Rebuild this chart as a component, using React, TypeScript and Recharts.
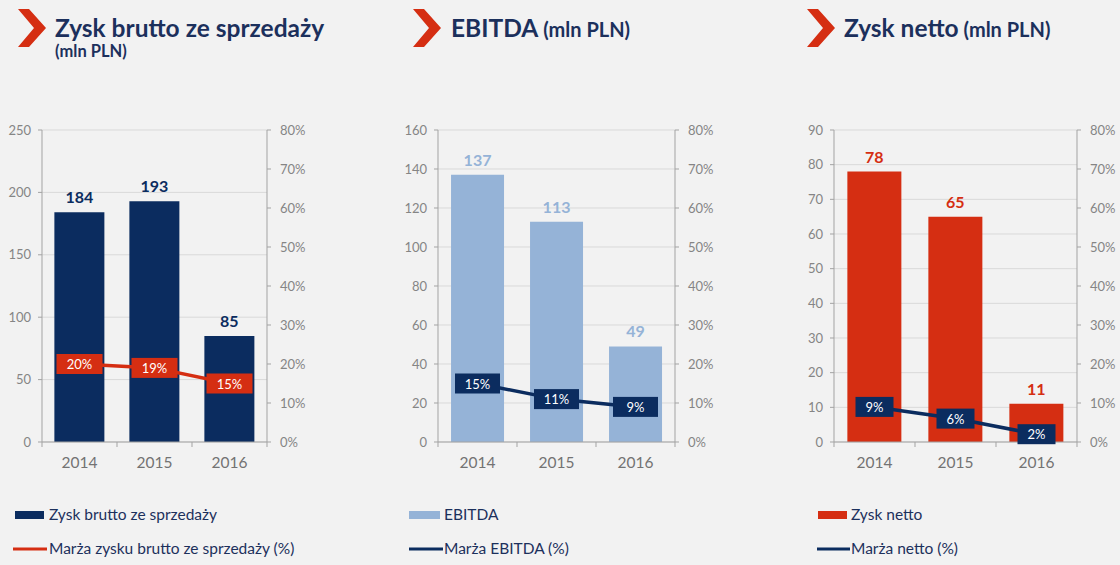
import React from 'react';
import { ComposedChart, Bar, Line, XAxis, YAxis, CartesianGrid, LabelList } from 'recharts';

// ---- data ----
const years = ['2014', '2015', '2016'];

const grossProfit = [184, 193, 85];
const grossMargin = [20, 19, 15];

const ebitda = [137, 113, 49];
const ebitdaMargin = [15, 11, 9];

const netProfit = [78, 65, 11];
const netMargin = [9, 6, 2];

const grossTicks = [0, 50, 100, 150, 200, 250];
const ebitdaTicks = [0, 20, 40, 60, 80, 100, 120, 140, 160];
const netTicks = [0, 10, 20, 30, 40, 50, 60, 70, 80, 90];
const pctTicks = [0, 10, 20, 30, 40, 50, 60, 70, 80];

const panelTitles = ['Zysk brutto ze sprzedaży', 'EBITDA', 'Zysk netto'];
const unitLabel = '(mln PLN)';
const barNames = ['Zysk brutto ze sprzedaży', 'EBITDA', 'Zysk netto'];
const lineNames = ['Marża zysku brutto ze sprzedaży (%)', 'Marża EBITDA (%)', 'Marża netto (%)'];

// ---- style ----
const FONT = 'Lato, "Noto Sans", sans-serif';
const NAVY = '#0b2c5f';
const TEXT_NAVY = '#1c305c';
const RED = '#d52e12';
const LIGHT_BLUE = '#95b3d7';
const GRID = '#d9d9d9';
const AXIS = '#a3a3a3';
const TICK_TEXT = '#858585';
const CAT_TEXT = '#737373';
const BG = '#f2f2f2';

const makeRows = (values: number[], margins: number[]) =>
  years.map((year, i) => ({ year, value: values[i], margin: margins[i] }));

const CategoryTick = (props: any) => {
  const { x, y, payload, index, band, count } = props;
  const left = x - band / 2;
  const right = x + band / 2;
  return (
    <g>
      <line x1={left} x2={left} y1={y} y2={y + 5} stroke={AXIS} />
      {index === count - 1 && <line x1={right} x2={right} y1={y} y2={y + 5} stroke={AXIS} />}
      <text x={x} y={y + 26} textAnchor="middle" fill={CAT_TEXT} fontSize={15.5} fontFamily={FONT}>
        {payload.value}
      </text>
    </g>
  );
};

const MarginTag = (props: any) => {
  const { value, color, tagW } = props;
  const x = props.x ?? props.viewBox?.x;
  const y = props.y ?? props.viewBox?.y;
  if (x == null || y == null) return null;
  return (
    <g>
      <rect x={x - tagW / 2} y={y - 10} width={tagW} height={20} fill={color} />
      <text x={x} y={y + 5} textAnchor="middle" fill="#ffffff" fontSize={13} fontFamily={FONT}>
        {`${value}%`}
      </text>
    </g>
  );
};

type PanelProps = {
  left: number;
  width: number;
  plotW: number;
  rightW: number;
  rows: { year: string; value: number; margin: number }[];
  ticks: number[];
  barColor: string;
  lineColor: string;
  tagW: number;
};

function Panel({ left, width, plotW, rightW, rows, ticks, barColor, lineColor, tagW }: PanelProps) {
  const band = plotW / rows.length;
  const tickStyle = { fill: TICK_TEXT, fontSize: 13, fontFamily: FONT };
  return (
    <div style={{ position: 'absolute', left, top: 110 }}>
      <ComposedChart
        width={width}
        height={370}
        data={rows}
        margin={{ top: 20, right: 0, bottom: 8, left: 0 }}
        barCategoryGap="16.5%"
      >
        <CartesianGrid vertical={false} yAxisId="left" stroke={GRID} />
        <XAxis
          dataKey="year"
          height={30}
          tickSize={0}
          tickMargin={0}
          tickLine={false}
          interval={0}
          axisLine={{ stroke: AXIS }}
          tick={<CategoryTick band={band} count={rows.length} />}
        />
        <YAxis
          yAxisId="left"
          width={42}
          domain={[0, ticks[ticks.length - 1]]}
          ticks={ticks}
          interval={0}
          tickSize={4}
          tickMargin={7}
          axisLine={{ stroke: AXIS }}
          tickLine={{ stroke: AXIS }}
          tick={tickStyle}
        />
        <YAxis
          yAxisId="right"
          orientation="right"
          width={rightW}
          domain={[0, 80]}
          ticks={pctTicks}
          interval={0}
          tickSize={4}
          tickMargin={9}
          tickFormatter={(v: number) => `${v}%`}
          axisLine={{ stroke: AXIS }}
          tickLine={{ stroke: AXIS }}
          tick={{ ...tickStyle, textAnchor: 'start' }}
        />
        <Bar dataKey="value" yAxisId="left" fill={barColor} isAnimationActive={false}>
          <LabelList
            dataKey="value"
            position="top"
            offset={9}
            fill={barColor}
            fontSize={16}
            fontWeight={700}
            fontFamily={FONT}
          />
        </Bar>
        <Line
          dataKey="margin"
          yAxisId="right"
          stroke={lineColor}
          strokeWidth={3.5}
          dot={false}
          activeDot={false}
          isAnimationActive={false}
        >
          <LabelList dataKey="margin" content={<MarginTag color={lineColor} tagW={tagW} />} />
        </Line>
      </ComposedChart>
    </div>
  );
}

const Chevron = ({ x }: { x: number }) => (
  <polygon
    points={`${x},9 ${x + 11},9 ${x + 28},28 ${x + 11},47 ${x},47 ${x + 16},28`}
    fill={RED}
  />
);

export default function App() {
  return (
    <div
      style={{
        position: 'absolute',
        left: 0,
        top: 0,
        width: 1120,
        height: 565,
        background: BG,
        overflow: 'hidden',
        fontFamily: FONT,
      }}
    >
      <svg width={1120} height={565} style={{ position: 'absolute', left: 0, top: 0 }}>
        {/* headers */}
        <Chevron x={18} />
        <text x={55} y={37} fill={TEXT_NAVY} fontSize={24.5} fontWeight={700} fontFamily={FONT}>
          {panelTitles[0]}
        </text>
        <text x={55} y={57} fill={TEXT_NAVY} fontSize={16.5} fontWeight={700} fontFamily={FONT}>
          {unitLabel}
        </text>

        <Chevron x={413} />
        <text x={451} y={37} fill={TEXT_NAVY} fontSize={24.5} fontWeight={700} fontFamily={FONT}>
          {panelTitles[1]}
          <tspan fontSize={20}>{` ${unitLabel}`}</tspan>
        </text>

        <Chevron x={807} />
        <text x={844} y={37} fill={TEXT_NAVY} fontSize={24.5} fontWeight={700} fontFamily={FONT}>
          {panelTitles[2]}
          <tspan fontSize={20}>{` ${unitLabel}`}</tspan>
        </text>

        {/* legends */}
        <rect x={15} y={511} width={29} height={8} fill={NAVY} />
        <text x={49} y={520} fill={TEXT_NAVY} fontSize={15.5} fontFamily={FONT}>{barNames[0]}</text>
        <line x1={13} x2={47} y1={549} y2={549} stroke={RED} strokeWidth={3} />
        <text x={49} y={554} fill={TEXT_NAVY} fontSize={15.5} fontFamily={FONT}>{lineNames[0]}</text>

        <rect x={409} y={511} width={31} height={8} fill={LIGHT_BLUE} />
        <text x={444} y={520} fill={TEXT_NAVY} fontSize={15.5} fontFamily={FONT}>{barNames[1]}</text>
        <line x1={409} x2={443} y1={549} y2={549} stroke={NAVY} strokeWidth={3} />
        <text x={444} y={554} fill={TEXT_NAVY} fontSize={15.5} fontFamily={FONT}>{lineNames[1]}</text>

        <rect x={818} y={511} width={29} height={8} fill={RED} />
        <text x={851} y={520} fill={TEXT_NAVY} fontSize={15.5} fontFamily={FONT}>{barNames[2]}</text>
        <line x1={817} x2={850} y1={549} y2={549} stroke={NAVY} strokeWidth={3} />
        <text x={851} y={554} fill={TEXT_NAVY} fontSize={15.5} fontFamily={FONT}>{lineNames[2]}</text>
      </svg>

      <Panel
        left={0}
        width={330}
        plotW={225}
        rightW={63}
        rows={makeRows(grossProfit, grossMargin)}
        ticks={grossTicks}
        barColor={NAVY}
        lineColor={RED}
        tagW={46}
      />
      <Panel
        left={396}
        width={342}
        plotW={237}
        rightW={63}
        rows={makeRows(ebitda, ebitdaMargin)}
        ticks={ebitdaTicks}
        barColor={LIGHT_BLUE}
        lineColor={NAVY}
        tagW={45}
      />
      <Panel
        left={792}
        width={328}
        plotW={243}
        rightW={43}
        rows={makeRows(netProfit, netMargin)}
        ticks={netTicks}
        barColor={RED}
        lineColor={NAVY}
        tagW={38}
      />
    </div>
  );
}
